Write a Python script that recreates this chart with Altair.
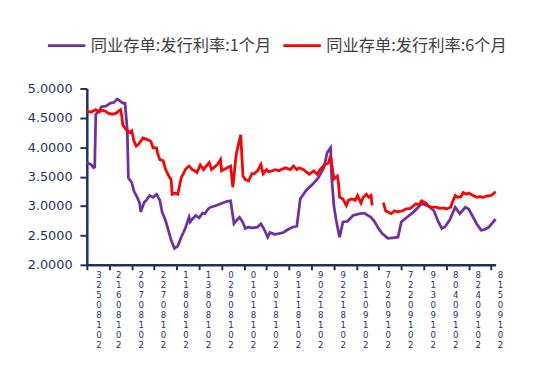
import altair as alt
import pandas as pd

# Day offsets from 2018-05-23 and values
base_date = "2018-05-23"
series_names = ["同业存单:发行利率:1个月", "同业存单:发行利率:6个月"]

p_day = [0, 4, 6, 7, 8, 11, 13, 17, 21, 24, 27, 30, 32, 34, 36, 37, 40, 42, 44, 46,
         47, 48, 51, 53, 56, 59, 62, 65, 67, 70, 73, 75, 78, 81, 84, 86, 88, 91, 92, 94,
         97, 100, 103, 105, 108, 110, 114, 118, 122, 125, 128, 131, 133, 136, 139, 141,
         144, 147, 152, 155, 158, 161, 163, 167, 171, 175, 179, 183, 187, 190, 195, 201,
         206, 211, 214, 217, 218, 220, 222, 225, 228, 232, 237, 243, 247, 253, 256, 259,
         263, 268, 272, 277, 280, 285, 291, 298, 304, 309, 313, 316, 319, 323, 328, 332,
         337, 340, 347, 351, 354, 358, 363, 364]
p_val = [3.74, 3.70, 3.65, 3.66, 4.56, 4.62, 4.69, 4.70, 4.75, 4.76, 4.82, 4.78, 4.75,
         4.75, 4.30, 3.48, 3.40, 3.25, 3.18, 3.10, 3.05, 2.90, 3.06, 3.10, 3.18, 3.15,
         3.20, 3.10, 2.90, 2.76, 2.56, 2.42, 2.28, 2.32, 2.47, 2.55, 2.64, 2.81, 2.73,
         2.78, 2.84, 2.80, 2.88, 2.87, 2.95, 2.98, 3.00, 3.03, 3.06, 3.08, 3.09, 2.70,
         2.75, 2.81, 2.72, 2.62, 2.64, 2.63, 2.64, 2.70, 2.60, 2.47, 2.55, 2.52, 2.53,
         2.55, 2.60, 2.64, 2.66, 3.12, 3.26, 3.37, 3.48, 3.65, 3.91, 3.99, 3.48, 3.00,
         2.76, 2.47, 2.73, 2.74, 2.84, 2.87, 2.88, 2.81, 2.74, 2.64, 2.53, 2.45, 2.46,
         2.47, 2.73, 2.81, 2.90, 3.04, 3.00, 2.92, 2.73, 2.62, 2.65, 2.76, 2.98, 2.87,
         2.98, 2.95, 2.70, 2.59, 2.60, 2.64, 2.76, 2.74]

r1_day = [0, 4, 8, 11, 13, 16, 19, 23, 26, 30, 31, 32, 35, 38, 40, 42, 44, 46, 50, 54,
          57, 59, 62, 63, 65, 68, 70, 73, 75, 76, 79, 81, 84, 86, 88, 91, 94, 96, 98,
          101, 104, 105, 109, 111, 116, 119, 120, 123, 125, 128, 130, 133, 137, 139,
          141, 144, 147, 149, 152, 155, 157, 160, 162, 165, 168, 171, 174, 177, 181,
          184, 187, 189, 193, 198, 202, 205, 208, 212, 215, 217, 218, 220, 223, 224,
          225, 228, 231, 233, 236, 239, 241, 244, 246, 249, 251, 253, 254]
r1_val = [4.61, 4.60, 4.64, 4.60, 4.63, 4.62, 4.58, 4.56, 4.58, 4.64, 4.55, 4.38, 4.30,
          4.25, 4.28, 4.10, 4.02, 4.05, 4.16, 4.13, 4.10, 3.99, 3.99, 3.90, 3.79, 3.77,
          3.63, 3.51, 3.45, 3.20, 3.22, 3.20, 3.48, 3.55, 3.63, 3.68, 3.62, 3.60, 3.57,
          3.70, 3.62, 3.65, 3.74, 3.62, 3.70, 3.79, 3.60, 3.63, 3.65, 3.68, 3.32, 3.88,
          4.21, 3.51, 3.45, 3.43, 3.55, 3.55, 3.60, 3.71, 3.55, 3.62, 3.58, 3.60, 3.62,
          3.60, 3.63, 3.65, 3.62, 3.68, 3.62, 3.65, 3.62, 3.54, 3.60, 3.54, 3.63, 3.71,
          3.73, 3.85, 3.71, 3.46, 3.51, 3.40, 3.15, 3.12, 3.01, 3.10, 3.12, 3.10, 3.18,
          3.05, 3.15, 3.20, 3.15, 3.18, 3.01]

r2_day = [264, 266, 268, 271, 274, 277, 281, 284, 288, 293, 296, 298, 302, 304, 307,
          311, 314, 318, 320, 324, 325, 328, 330, 333, 335, 338, 340, 344, 347, 350,
          353, 356, 360, 363, 364]
r2_val = [3.06, 2.92, 2.90, 2.87, 2.92, 2.90, 2.92, 2.95, 2.96, 3.04, 3.02, 3.09, 3.05,
          3.00, 2.98, 2.98, 2.96, 2.97, 2.95, 2.98, 3.05, 3.18, 3.15, 3.16, 3.23, 3.20,
          3.22, 3.18, 3.15, 3.16, 3.15, 3.17, 3.18, 3.23, 3.24]

tick_day = list(range(0, 361, 20))

base = pd.Timestamp(base_date)


def frame(days, vals, name, seg):
    return pd.DataFrame({
        "date": [base + pd.Timedelta(days=d) for d in days],
        "value": vals,
        "series": name,
        "seg": seg,
    })


df = pd.concat([
    frame(p_day, p_val, series_names[0], "p"),
    frame(r1_day, r1_val, series_names[1], "r1"),
    frame(r2_day, r2_val, series_names[1], "r2"),
], ignore_index=True)

tick_dates = [base + pd.Timedelta(days=d) for d in tick_day]
tick_values = [alt.DateTime(year=t.year, month=t.month, date=t.day) for t in tick_dates]
end = base + pd.Timedelta(days=364)

navy = "#1F2F5E"

chart = alt.Chart(df).mark_line(strokeWidth=2.8).encode(
    x=alt.X(
        "date:T",
        scale=alt.Scale(domain=[alt.DateTime(year=base.year, month=base.month, date=base.day),
                                alt.DateTime(year=end.year, month=end.month, date=end.day)]),
        axis=alt.Axis(
            title=None, grid=False, values=tick_values,
            labelExpr="reverse(split(timeFormat(datum.value, '%Y%m%d'), ''))",
            labelAngle=0, labelOffset=9, labelPadding=1, labelLineHeight=10.2,
            labelFont="DejaVu Sans", labelFontSize=8.7, labelColor=navy,
            labelOverlap=False, labelBaseline="top",
            domainColor=navy, domainWidth=2.5, tickColor=navy, tickWidth=2, tickSize=5,
        ),
    ),
    y=alt.Y(
        "value:Q",
        scale=alt.Scale(domain=[2, 5], nice=False, zero=False),
        axis=alt.Axis(
            title=None, grid=False, values=[2, 2.5, 3, 3.5, 4, 4.5, 5], format=".4f",
            labelFont="DejaVu Sans", labelFontSize=13, labelColor=navy, labelPadding=8,
            domainColor=navy, domainWidth=2.5, tickColor=navy, tickWidth=2, tickSize=7,
        ),
    ),
    color=alt.Color(
        "series:N",
        scale=alt.Scale(domain=series_names, range=["#7030A0", "#FF0000"]),
        legend=alt.Legend(
            title=None, orient="none", legendX=-41, legendY=-64, direction="horizontal",
            symbolType="stroke", symbolSize=1444, symbolStrokeWidth=3,
            labelFont="Noto Sans CJK SC", labelFontSize=16.5, labelColor="#404040",
            labelLimit=400, labelOffset=4, columnPadding=5,
        ),
    ),
    detail="seg:N",
).properties(
    width=415, height=179,
    autosize=alt.AutoSizeParams(type="none"),
    padding={"left": 80, "top": 79, "right": 47, "bottom": 100},
).configure_view(stroke=None)

chart.save("out.html", embed_options={"renderer": "svg", "actions": False})
